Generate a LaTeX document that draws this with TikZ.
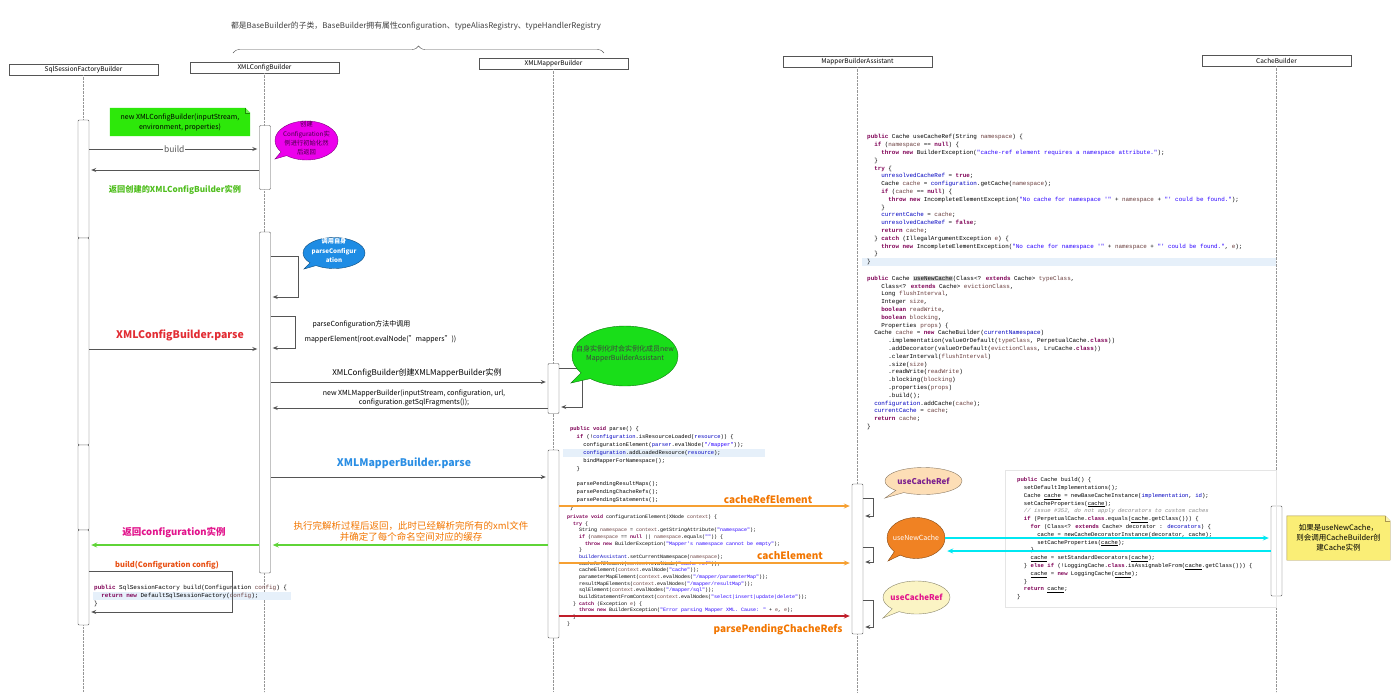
\documentclass[tikz,border=0pt]{standalone}
\usepackage{fontspec}
\setmainfont{Noto Sans CJK SC}
\newfontfamily\codefont{Liberation Mono}
\usetikzlibrary{arrows.meta}
\usetikzlibrary{shapes.callouts}
\usetikzlibrary{decorations.pathreplacing}
\pgfdeclarelayer{background}
\pgfsetlayers{background,main}

\definecolor{linegray}{RGB}{85,85,85}
\definecolor{lifegray}{RGB}{150,150,150}
\definecolor{notegreen}{RGB}{45,232,10}
\definecolor{textgreen}{RGB}{80,190,30}
\definecolor{retgreen}{RGB}{95,212,55}
\definecolor{bubblemag}{RGB}{236,0,236}
\definecolor{bubbleblue}{RGB}{30,140,228}
\definecolor{bubblegreen}{RGB}{25,222,25}
\definecolor{parsered}{RGB}{226,45,52}
\definecolor{parseblue}{RGB}{42,142,228}
\definecolor{labelorange}{RGB}{242,118,0}
\definecolor{arroworange}{RGB}{246,160,50}
\definecolor{arrowred}{RGB}{192,30,42}
\definecolor{retmagenta}{RGB}{226,20,140}
\definecolor{buildorange}{RGB}{232,80,20}
\definecolor{cyanline}{RGB}{0,232,242}
\definecolor{noteyellow}{RGB}{250,238,118}
\definecolor{notebrown}{RGB}{170,150,80}
\definecolor{refpeach}{RGB}{253,222,182}
\definecolor{refpurple}{RGB}{122,30,142}
\definecolor{newcacheorange}{RGB}{240,130,35}
\definecolor{refyellow}{RGB}{251,244,196}
\definecolor{hlblue}{RGB}{230,240,250}
\definecolor{hlgray}{RGB}{212,212,212}
\definecolor{kwpurple}{RGB}{127,0,85}
\definecolor{fieldblue}{RGB}{0,0,192}
\definecolor{strblue}{RGB}{42,0,255}
\definecolor{vargray}{RGB}{106,62,62}
\definecolor{cmtgray}{RGB}{140,140,140}

% java code colouring
\newcommand\jkw[1]{\textcolor{kwpurple}{\bfseries #1}}
\newcommand\jfd[1]{\textcolor{fieldblue}{#1}}
\newcommand\jst[1]{\textcolor{strblue}{#1}}
\newcommand\jvr[1]{\textcolor{vargray}{#1}}
\newcommand\jin[1]{\hspace*{#1\fontcharwd\font`0}}

\begin{document}
\begin{tikzpicture} [ x=1pt, y=-1pt
		, head/.style={rectangle, draw=linegray, fill=white, minimum width=149pt, minimum height=11pt, inner sep=0pt, font=\fontsize{6.5}{7}\selectfont}
		, lifeline/.style={draw=lifegray, densely dotted}
		, bar/.style={rectangle, draw=linegray, fill=white, minimum width=11pt, inner sep=0pt, rounded corners=1pt}
		, msg/.style={draw=linegray, line width=.8pt, shorten >=2pt, arrows={-Stealth[length=5pt, width=4pt]}}
		, flow/.style={line width=1.3pt, shorten >=2pt, arrows={-Stealth[length=6pt, width=5pt]}}
		, code/.style={anchor=north west, inner sep=0pt, align=left}
		, bubble/.style={ellipse callout, draw=#1!55!black, fill=#1, inner sep=0pt}
		, notebox/.style={inner sep=0pt, align=center}
		]
	\useasboundingbox (0,0) rectangle (1400,697);
	\begin{pgfonlayer}{background}
		\fill [white] (0,0) rectangle (1400,697);
	\end{pgfonlayer}

	% header and brace
	\node (baseNote) [font=\fontsize{7.85}{8}\selectfont, text=black!75] at (416,26) {都是BaseBuilder的子类，BaseBuilder拥有属性configuration、typeAliasRegistry、typeHandlerRegistry};
	\coordinate (braceL) at (233,53);
	\coordinate (braceR) at (604,53);
	\draw [draw=linegray, decorate, decoration={brace, amplitude=7pt}] (braceL) -- (braceR);

	% lifelines
	\node (sfb) [head] at (83.5,69.5) {SqlSessionFactoryBuilder};
	\node (cfg) [head] at (264.5,67.5) {XMLConfigBuilder};
	\node (xmb) [head] at (553.5,63.5) {XMLMapperBuilder};
	\node (mba) [head] at (857.5,61.5) {MapperBuilderAssistant};
	\node (cb)  [head] at (1276.5,60.5) {CacheBuilder};
	\foreach \l in {sfb,cfg,xmb,mba,cb}
		\draw [lifeline] (\l.south) -- (\l.south |- 0,692);

	% activation bars
	\node (sfbA) [bar, minimum height=118pt] at (83.5,179) {};
	\node (sfbB) [bar, minimum height=207pt] at (83.5,341.5) {};
	\node (sfbC) [bar, minimum height=85pt] at (83.5,487.5) {};
	\node (sfbD) [bar, minimum height=95pt] at (83.5,577.5) {};
	\node (cfgA) [bar, minimum height=64pt] at (265,157.5) {};
	\node (cfgB) [bar, minimum height=341pt] at (265,402.5) {};
	\node (xmbA) [bar, minimum height=50pt] at (553.5,388.5) {};
	\node (xmbB) [bar, minimum height=188pt] at (553.5,544) {};
	\node (mbaA) [bar, minimum height=150pt] at (857.5,559) {};
	\node (cbA)  [bar, minimum height=90pt] at (1276.5,551) {};

	% new XMLConfigBuilder
	\node (newCfg) [notebox, minimum width=140pt, minimum height=28pt, font=\fontsize{7}{10}\selectfont] at (180,122) {new XMLConfigBuilder(inputStream,\\environment, properties)};
	\draw [msg] (sfbA.east |- 0,149) -- node [fill=white, inner sep=1pt, text=black!65, font=\fontsize{8.5}{9}\selectfont] {build} (cfgA.west |- 0,149);
	\draw [msg] (cfgA.west |- 0,170) -- (sfbA.east |- 0,170);
	\node (retCfg) [text=textgreen, font=\bfseries\fontsize{8.2}{9}\selectfont] at (175,190) {返回创建的XMLConfigBuilder实例};
	\node (cfgBubble) [bubble=bubblemag, minimum width=63pt, minimum height=39pt, callout absolute pointer={(275,159)}, text=black!70!bubblemag, font=\fontsize{6.3}{9.3}\selectfont] at (306.5,140.5) {\makebox[0pt]{\smash{\begin{tabular}{@{}c@{}}创建\\Configuration实\\例进行初始化然\\后返回\end{tabular}}}};

	% parse
	\draw [msg] (cfgB.east |- 0,256) -- ++(28,0) |- (cfgB.east |- 0,297);
	\node (selfBubble) [bubble=bubbleblue, minimum width=62pt, minimum height=31pt, callout absolute pointer={(304,269)}, text=white, font=\bfseries\fontsize{6.2}{9.5}\selectfont] at (334,253) {\makebox[0pt]{\smash{\begin{tabular}{@{}c@{}}调用自身\\parseConfigur\\ation\end{tabular}}}};
	\draw [msg] (cfgB.east |- 0,316) -- ++(25,0) |- (cfgB.east |- 0,348);
	\node (selfNote) [anchor=west, font=\fontsize{7}{8}\selectfont] at (309,324) {parseConfiguration方法中调用};
	\node (mapperNote) [anchor=west, font=\fontsize{7}{8}\selectfont] at (301,339) {mapperElement(root.evalNode("mappers"))};
	\draw [msg] (sfbB.east |- 0,349) -- (cfgB.west |- 0,349);
	\node (cfgParse) [text=parsered, font=\bfseries\fontsize{10.5}{12}\selectfont] at (180,335) {XMLConfigBuilder.parse};

	% XMLMapperBuilder
	\draw [msg] (cfgB.east |- 0,382) -- (xmbA.west |- 0,382);
	\node (newMapper) [font=\fontsize{8}{9}\selectfont] at (417,373) {XMLConfigBuilder创建XMLMapperBuilder实例};
	\draw [msg] (xmbA.west |- 0,408) -- (cfgB.east |- 0,408);
	\node (newMapperArgs) [align=center, font=\fontsize{7}{9.5}\selectfont] at (414,398) {new XMLMapperBuilder(inputStream, configuration, url,\\configuration.getSqlFragments());};
	\draw [msg] (xmbA.east |- 0,368) -- ++(23,0) |- (xmbA.east |- 0,407);
	\node (assistBubble) [bubble=bubblegreen, minimum width=106pt, minimum height=60pt, callout absolute pointer={(571,383)}, text=black!75, font=\fontsize{7}{9}\selectfont] at (625,356) {\makebox[0pt]{\smash{\begin{tabular}{@{}c@{}}自身实例化时会实例化成员new\\MapperBuilderAssistant\end{tabular}}}};
	\draw [msg] (cfgB.east |- 0,477) -- (xmbB.west |- 0,477);
	\node (mapperParse) [text=parseblue, font=\bfseries\fontsize{10.5}{12}\selectfont] at (404,463) {XMLMapperBuilder.parse};

	% parse() and configurationElement()
	\fill [hlblue] (563,449) rectangle (765,457);
	\node (parseCode) [code, font=\codefont\fontsize{5.45}{8}\selectfont] at (570,426.5) {%
\jkw{public} \jkw{void} parse() \{\\
\jin2\jkw{if} (!\jfd{configuration}.isResourceLoaded(\jfd{resource})) \{\\
\jin4configurationElement(\jfd{parser}.evalNode(\jst{"/mapper"}));\\
\jin4\jfd{configuration}.addLoadedResource(\jfd{resource});\\
\jin4bindMapperForNamespace();\\
\jin2\}\\[7pt]
\jin2parsePendingResultMaps();\\
\jin2parsePendingChacheRefs();\\
\jin2parsePendingStatements();\\
\}};
	\node (elementCode) [code, font=\codefont\fontsize{5}{6.67}\selectfont] at (567,514.5) {%
\jkw{private} \jkw{void} configurationElement(XNode \jvr{context}) \{\\
\jin2\jkw{try} \{\\
\jin4String \jvr{namespace} = \jvr{context}.getStringAttribute(\jst{"namespace"});\\
\jin4\jkw{if} (\jvr{namespace} == \jkw{null} || \jvr{namespace}.equals(\jst{""})) \{\\
\jin6\jkw{throw} \jkw{new} BuilderException(\jst{"Mapper's namespace cannot be empty"});\\
\jin4\}\\
\jin4\jfd{builderAssistant}.setCurrentNamespace(\jvr{namespace});\\
\jin4cacheRefElement(\jvr{context}.evalNode(\jst{"cache-ref"}));\\
\jin4cacheElement(\jvr{context}.evalNode(\jst{"cache"}));\\
\jin4parameterMapElement(\jvr{context}.evalNodes(\jst{"/mapper/parameterMap"}));\\
\jin4resultMapElements(\jvr{context}.evalNodes(\jst{"/mapper/resultMap"}));\\
\jin4sqlElement(\jvr{context}.evalNodes(\jst{"/mapper/sql"}));\\
\jin4buildStatementFromContext(\jvr{context}.evalNodes(\jst{"select|insert|update|delete"}));\\
\jin2\} \jkw{catch} (Exception \jvr{e}) \{\\
\jin4\jkw{throw} \jkw{new} BuilderException(\jst{"Error parsing Mapper XML. Cause: "} + \jvr{e}, \jvr{e});\\
\jin2\}\\
\}};

	% MapperBuilderAssistant
	\draw [flow, arroworange] (xmbB.east |- 0,506) -- (mbaA.west |- 0,506);
	\node (cacheRefLbl) [text=labelorange, font=\bfseries\fontsize{10}{11}\selectfont] at (768,499) {cacheRefElement};
	\draw [flow, arroworange] (xmbB.east |- 0,563) -- (mbaA.west |- 0,563);
	\node (cacheLbl) [text=labelorange, font=\bfseries\fontsize{10}{11}\selectfont] at (790,556) {cachElement};
	\draw [flow, arrowred] (xmbB.east |- 0,616) -- (mbaA.west |- 0,616);
	\node (pendingLbl) [text=labelorange, font=\bfseries\fontsize{10}{11}\selectfont] at (778,630) {parsePendingChacheRefs};
	\draw [msg] (mbaA.east |- 0,498) -- ++(10,0) |- (mbaA.east |- 0,516);
	\draw [msg] (mbaA.east |- 0,547) -- ++(10,0) |- (mbaA.east |- 0,562);
	\draw [msg] (mbaA.east |- 0,600) -- ++(10,0) |- (mbaA.east |- 0,627);
	\node (refBubbleA) [bubble=refpeach, minimum width=77pt, minimum height=27pt, callout absolute pointer={(885,498)}, text=refpurple, font=\bfseries\fontsize{8}{9}\selectfont] at (923.5,481) {\makebox[0pt]{useCacheRef}};
	\node (newCache) [bubble=newcacheorange, minimum width=58pt, minimum height=41pt, callout absolute pointer={(888,561)}, text=white, font=\fontsize{7}{8}\selectfont] at (916,538) {\makebox[0pt]{useNewCache}};
	\node (refBubbleB) [bubble=refyellow, minimum width=67pt, minimum height=33pt, callout absolute pointer={(883,618)}, text=retmagenta, font=\bfseries\fontsize{8}{9}\selectfont] at (916.5,597.5) {\makebox[0pt]{useCacheRef}};

	% useCacheRef() and useNewCache()
	\fill [hlblue] (862,258) rectangle (1276,266);
	\node (cacheRefCode) [code, font=\codefont\fontsize{5.9}{7.8}\selectfont] at (867,134.5) {%
\jkw{public} Cache useCacheRef(String \jvr{namespace}) \{\\
\jin2\jkw{if} (\jvr{namespace} == \jkw{null}) \{\\
\jin4\jkw{throw} \jkw{new} BuilderException(\jst{"cache-ref element requires a namespace attribute."});\\
\jin2\}\\
\jin2\jkw{try} \{\\
\jin4\jfd{unresolvedCacheRef} = \jkw{true};\\
\jin4Cache \jvr{cache} = \jfd{configuration}.getCache(\jvr{namespace});\\
\jin4\jkw{if} (\jvr{cache} == \jkw{null}) \{\\
\jin6\jkw{throw} \jkw{new} IncompleteElementException(\jst{"No cache for namespace '"} + \jvr{namespace} + \jst{"' could be found."});\\
\jin4\}\\
\jin4\jfd{currentCache} = \jvr{cache};\\
\jin4\jfd{unresolvedCacheRef} = \jkw{false};\\
\jin4\jkw{return} \jvr{cache};\\
\jin2\} \jkw{catch} (IllegalArgumentException \jvr{e}) \{\\
\jin4\jkw{throw} \jkw{new} IncompleteElementException(\jst{"No cache for namespace '"} + \jvr{namespace} + \jst{"' could be found."}, \jvr{e});\\
\jin2\}\\
\}};
	\node (newCacheCode) [code, font=\codefont\fontsize{5.9}{7.8}\selectfont] at (867,275.5) {%
\jkw{public} Cache {\fboxsep=0.3pt\colorbox{hlgray}{useNewCache}}(Class<? \jkw{extends} Cache> \jvr{typeClass},\\
\jin4Class<? \jkw{extends} Cache> \jvr{evictionClass},\\
\jin4Long \jvr{flushInterval},\\
\jin4Integer \jvr{size},\\
\jin4\jkw{boolean} \jvr{readWrite},\\
\jin4\jkw{boolean} \jvr{blocking},\\
\jin4Properties \jvr{props}) \{\\
\jin2Cache \jvr{cache} = \jkw{new} CacheBuilder(\jfd{currentNamespace})\\
\jin6.implementation(valueOrDefault(\jvr{typeClass}, PerpetualCache.\jkw{class}))\\
\jin6.addDecorator(valueOrDefault(\jvr{evictionClass}, LruCache.\jkw{class}))\\
\jin6.clearInterval(\jvr{flushInterval})\\
\jin6.size(\jvr{size})\\
\jin6.readWrite(\jvr{readWrite})\\
\jin6.blocking(\jvr{blocking})\\
\jin6.properties(\jvr{props})\\
\jin6.build();\\
\jin2\jfd{configuration}.addCache(\jvr{cache});\\
\jin2\jfd{currentCache} = \jvr{cache};\\
\jin2\jkw{return} \jvr{cache};\\
\}};

	% CacheBuilder.build()
	\draw [gray!20] (1005,470) rectangle (1276,607);
	\node (buildCode) [code, font=\codefont\fontsize{5.6}{7.8}\selectfont] at (1017,477.5) {%
\jkw{public} Cache build() \{\\
\jin2setDefaultImplementations();\\
\jin2Cache \underline{cache} = newBaseCacheInstance(\jfd{implementation}, \jfd{id});\\
\jin2setCacheProperties(\underline{cache});\\
\jin2\textcolor{cmtgray}{\itshape // issue \#352, do not apply decorators to custom caches}\\
\jin2\jkw{if} (PerpetualCache.\jkw{class}.equals(\underline{cache}.getClass())) \{\\
\jin4\jkw{for} (Class<? \jkw{extends} Cache> decorator : \jfd{decorators}) \{\\
\jin6\underline{cache} = newCacheDecoratorInstance(decorator, \underline{cache});\\
\jin6setCacheProperties(\underline{cache});\\
\jin4\}\\
\jin4\underline{cache} = setStandardDecorators(\underline{cache});\\
\jin2\} \jkw{else} \jkw{if} (!LoggingCache.\jkw{class}.isAssignableFrom(\underline{cache}.getClass())) \{\\
\jin4\underline{cache} = \jkw{new} LoggingCache(\underline{cache});\\
\jin2\}\\
\jin2\jkw{return} \underline{cache};\\
\}};
	\draw [flow, cyanline] (newCache.east) -- (cbA.west |- newCache.east);
	\draw [flow, cyanline] (cbA.west |- 0,551) -- (newCache.east |- 0,551);
	\node (cbNote) [notebox, minimum width=103pt, minimum height=44pt, font=\fontsize{7.5}{10}\selectfont] at (1338.5,538) {如果是useNewCache，\\则会调用CacheBuilder创\\建Cache实例};

	% back to SqlSessionFactoryBuilder
	\draw [flow, retgreen, line width=1.1pt] (xmbB.west |- 0,545) -- (cfgB.east |- 0,545);
	\node (doneNote) [align=center, text=labelorange, font=\fontsize{9.5}{11}\selectfont] at (411,531) {执行完解析过程后返回，此时已经解析完所有的xml文件\\并确定了每个命名空间对应的缓存};
	\draw [flow, retgreen, line width=1.1pt] (cfgB.west |- 0,545) -- (sfbD.east |- 0,545);
	\node (retConf) [text=retmagenta, font=\bfseries\fontsize{9.5}{11}\selectfont] at (174,532) {返回configuration实例};
	\node (buildLbl) [text=buildorange, font=\bfseries\fontsize{7.5}{8}\selectfont] at (167,565) {build(Configuration config)};
	\fill [hlblue] (93,592) rectangle (291,600);
	\node (factoryCode) [code, font=\codefont\fontsize{5.95}{8}\selectfont] at (94,585.3) {%
\jkw{public} SqlSessionFactory build(Configuration \jvr{config}) \{\\
\jin2\jkw{return} \jkw{new} DefaultSqlSessionFactory(\jvr{config});\\
\}};
	\draw [msg] (sfbD.east |- 0,571) -- ++(143,0) |- (sfbD.east |- 0,612);

	% note backgrounds
	\begin{pgfonlayer}{background}
		\fill [notegreen] (newCfg.south west) -- (newCfg.north west) -- ([xshift=-5pt]newCfg.north east) -- ([yshift=-5pt]newCfg.north east) -- (newCfg.south east) -- cycle;
		\draw [draw=notebrown, fill=noteyellow] (cbNote.south west) -- (cbNote.north west) -- ([xshift=-5pt]cbNote.north east) -- ([yshift=-5pt]cbNote.north east) -- (cbNote.south east) -- cycle;
	\end{pgfonlayer}
	\draw [draw=notegreen!60!black, fill=notegreen!70!white] ([xshift=-5pt]newCfg.north east) -- ([xshift=-5pt, yshift=-5pt]newCfg.north east) -- ([yshift=-5pt]newCfg.north east);
	\draw [draw=notebrown, fill=noteyellow!60!white] ([xshift=-5pt]cbNote.north east) -- ([xshift=-5pt, yshift=-5pt]cbNote.north east) -- ([yshift=-5pt]cbNote.north east);

\end{tikzpicture}
\end{document}
